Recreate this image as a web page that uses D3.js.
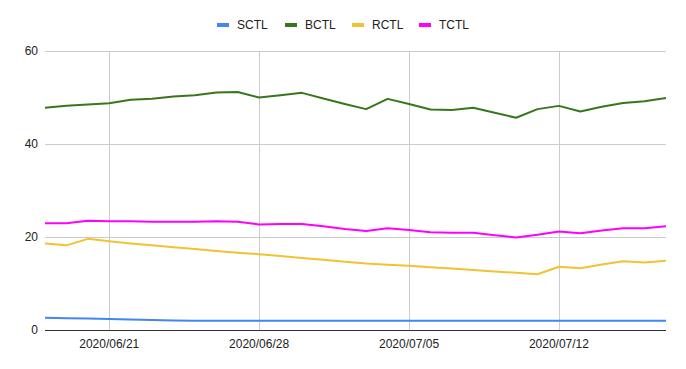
<!DOCTYPE html>
<html>
<head>
<meta charset="utf-8">
<script src="https://cdn.jsdelivr.net/npm/d3@7"></script>
<style>
  html, body { margin: 0; padding: 0; background: #fff; }
  svg { display: block; font-family: "Liberation Sans", Arial, sans-serif; }
</style>
</head>
<body>
<svg id="chart" width="686" height="369"></svg>
<script>
const dates = ["2020-06-18","2020-06-19","2020-06-20","2020-06-21","2020-06-22","2020-06-23","2020-06-24","2020-06-25","2020-06-26","2020-06-27",
  "2020-06-28","2020-06-29","2020-06-30","2020-07-01","2020-07-02","2020-07-03","2020-07-04","2020-07-05","2020-07-06","2020-07-07",
  "2020-07-08","2020-07-09","2020-07-10","2020-07-11","2020-07-12","2020-07-13","2020-07-14","2020-07-15","2020-07-16","2020-07-17"];
const SCTL = [2.65,2.55,2.45,2.35,2.25,2.15,2.05,2.0,2.0,2.0,2.0,2.0,2.0,2.0,2.0,2.0,2.0,2.0,2.0,2.0,2.0,2.0,2.0,2.0,2.0,2.0,2.0,2.0,2.0,2.0];
const BCTL = [47.8,48.2,48.5,48.75,49.5,49.75,50.2,50.5,51.1,51.2,50.0,50.5,51.0,49.8,48.6,47.5,49.7,48.6,47.4,47.3,47.8,46.7,45.65,47.5,48.2,47.0,48.0,48.8,49.2,49.9];
const RCTL = [18.6,18.2,19.6,19.1,18.6,18.2,17.8,17.4,17.0,16.6,16.3,15.9,15.5,15.1,14.7,14.3,14.05,13.8,13.5,13.2,12.9,12.6,12.3,12.0,13.6,13.3,14.1,14.8,14.5,14.9];
const TCTL = [22.95,22.95,23.5,23.4,23.4,23.3,23.3,23.3,23.4,23.3,22.7,22.8,22.8,22.3,21.7,21.3,21.9,21.5,21.0,20.9,20.9,20.4,19.9,20.5,21.2,20.8,21.4,21.9,21.9,22.3];
const seriesNames = ["SCTL","BCTL","RCTL","TCTL"];
const seriesColors = ["#4285f4","#38761d","#f1c232","#ff00ff"];
const yTicks = [0,20,40,60];
const xTickDates = ["2020-06-21","2020-06-28","2020-07-05","2020-07-12"];

const parse = d3.timeParse("%Y-%m-%d");
const fmt = d3.timeFormat("%Y/%m/%d");
const X = dates.map(parse);
const seriesData = [SCTL, BCTL, RCTL, TCTL];

const svg = d3.select("#chart");
const mLeft = 45, mRight = 666, mTop = 51, mBottom = 330;

const x = d3.scaleTime().domain(d3.extent(X)).range([mLeft, mRight]);
const y = d3.scaleLinear().domain([0, 60]).range([mBottom, mTop]);

// horizontal gridlines
svg.append("g").selectAll("line").data(yTicks.filter(t => t !== 0)).join("line")
  .attr("x1", mLeft).attr("x2", mRight)
  .attr("y1", d => y(d) + 0.5).attr("y2", d => y(d) + 0.5)
  .attr("stroke", "#cccccc").attr("stroke-width", 1);

// vertical gridlines
svg.append("g").selectAll("line").data(xTickDates.map(parse)).join("line")
  .attr("x1", d => Math.round(x(d)) + 0.5).attr("x2", d => Math.round(x(d)) + 0.5)
  .attr("y1", mTop).attr("y2", mBottom)
  .attr("stroke", "#cccccc").attr("stroke-width", 1);

// y labels
svg.append("g").selectAll("text").data(yTicks).join("text")
  .attr("x", 38).attr("y", d => y(d)).attr("dy", "0.35em")
  .attr("text-anchor", "end").attr("font-size", 12).attr("fill", "#222")
  .text(d => d);

// x labels
svg.append("g").selectAll("text").data(xTickDates.map(parse)).join("text")
  .attr("x", d => x(d)).attr("y", 347.5)
  .attr("text-anchor", "middle").attr("font-size", 12).attr("fill", "#222")
  .text(d => fmt(d));

// lines
const line = d3.line().x((d, i) => x(X[i])).y(d => y(d));
svg.append("g").selectAll("path").data(seriesData).join("path")
  .attr("d", d => line(d))
  .attr("fill", "none")
  .attr("stroke", (d, i) => seriesColors[i])
  .attr("stroke-width", 2)
  .attr("stroke-linejoin", "round");

// baseline
svg.append("line").attr("x1", mLeft).attr("x2", mRight)
  .attr("y1", y(0) + 0.5).attr("y2", y(0) + 0.5)
  .attr("stroke", "#333333").attr("stroke-width", 1);

// legend
const legendX = [217, 285, 352, 419];
const lg = svg.append("g").selectAll("g").data(seriesNames).join("g")
  .attr("transform", (d, i) => `translate(${legendX[i]},25)`);
lg.append("rect").attr("x", 0).attr("y", -2).attr("width", 12).attr("height", 4)
  .attr("fill", (d, i) => seriesColors[i]);
lg.append("text").attr("x", 20).attr("y", 0).attr("dy", "0.35em")
  .attr("font-size", 12).attr("fill", "#222").text(d => d);
</script>
</body>
</html>
